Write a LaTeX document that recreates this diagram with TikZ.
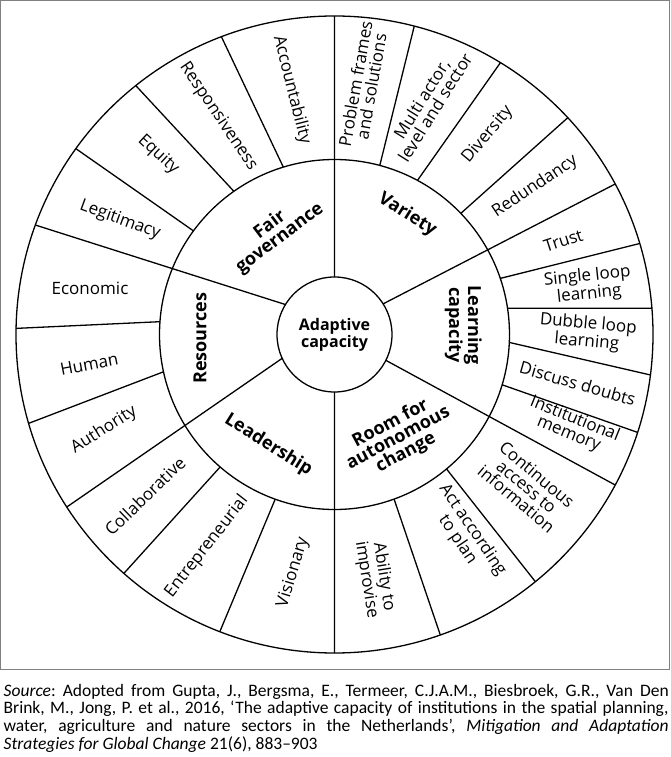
\documentclass[tikz,border=0pt]{standalone}
\usepackage{fontspec}
\setmainfont{Open Sans}
\newfontfamily\capfont{Carlito}
\tikzset{
  item/.style={font=\fontsize{17}{16}\selectfont, align=center, inner sep=0pt},
  group/.style={font=\fontsize{18}{16.5}\selectfont\bfseries, align=center, inner sep=0pt},
}
\begin{document}
\begin{tikzpicture}[x=1pt,y=1pt,line width=1.3pt]
   \useasboundingbox (-334.5,-422.5) rectangle (335.5,334.5);
   \draw[gray,line width=1pt] (-334,334) rectangle (335,-334.5);

   \draw (0,0) circle (318.5pt) (0,0) circle (175pt) (0,0) circle (57.5pt);

   % six main spokes
   \draw (0,57.5) -- (0,318.5) (0,-57.5) -- (0,-318.5)
   (32.2:57.5) -- (28.2:318.5) (-26.7:57.5) -- (-28.2:318.5)
   (204.5:57.5) -- (212.8:318.5) (148.6:57.5) -- (159.9:318.5);

   % outer ring
   \draw (75:175) -- (75.5:318.5) (61.7:175) -- (58.6:318.5)
   (43.8:175) -- (42.9:318.5) (18.7:175) -- (16.6:318.5)
   (173,26.2) -- (317.4,26.2) (-2.6:175) -- (-7.3:318.5)
   (-16.7:175) -- (-17.9:318.5) (-50.2:175) -- (-50.9:318.5)
   (-70.1:175) -- (-70.6:318.5) (250.2:175) -- (248.9:318.5)
   (229.2:175) -- (228.6:318.5) (192.3:175) -- (196.2:318.5)
   (175.8:175) -- (178.9:318.5) (143.7:175) -- (144.3:318.5)
   (125.1:175) -- (128.6:318.5) (107:175) -- (110.8:318.5);

   \node[group,font=\fontsize{16}{14.5}\selectfont\bfseries] (adapt) at (0,0) {Adaptive\\capacity};

   \node[group,rotate=37] (fair) at (-59.5,102.8) {Fair\\governance};
   \node[group,rotate=-32] (variety) at (72.8,119.5) {Variety};
   \node[group,rotate=-90] (learn) at (128.8,9.5) {Learning\\capacity};
   \node[group,rotate=28] (room) at (63.8,-103.8) {Room for\\autonomous\\change};
   \node[group,rotate=-32] (lead) at (-66.2,-110.5) {Leadership};
   \node[group,rotate=90] (resrc) at (-134.5,-3.8) {Resources};

   \node[item,rotate=-76] (account) at (-42.8,244.5) {Accountability};
   \node[item,rotate=-56] (respons) at (-116.2,217.8) {Responsiveness};
   \node[item,rotate=-43] (equity) at (-176.2,179.5) {Equity};
   \node[item,rotate=-20] (legit) at (-214.5,114.5) {Legitimacy};
   \node[item] (econ) at (-244.5,46.2) {Economic};
   \node[item,rotate=11] (human) at (-245.2,-29.8) {Human};
   \node[item,rotate=32] (auth) at (-230.5,-95.5) {Authority};
   \node[item,rotate=44] (collab) at (-189.5,-161.5) {Collaborative};
   \node[item,rotate=52] (entre) at (-127.8,-212.2) {Entrepreneurial};
   \node[item,rotate=73] (vision) at (-41.2,-237.8) {Visionary};
   \node[item,rotate=-81] (improv) at (40.5,-243.8) {Ability to\\improvise};
   \node[item,rotate=-56] (plan) at (130.5,-200.5) {Act according\\to plan};
   \node[item,rotate=-40] (access) at (192.2,-152.2) {Continuous\\access to\\information};
   \node[item,rotate=-22] (memory) at (237.2,-92.2) {Institutional\\memory};
   \node[item,rotate=-16] (doubts) at (243.2,-48.8) {Discuss doubts};
   \node[item,rotate=-5] (dubble) at (253,1.2) {Dubble loop\\learning};
   \node[item,rotate=6] (single) at (253.8,49) {Single loop\\learning};
   \node[item,rotate=18] (trust) at (228.8,93.8) {Trust};
   \node[item,rotate=34] (redund) at (200.5,147.8) {Redundancy};
   \node[item,rotate=50] (divers) at (153.2,199.5) {Diversity};
   \node[item,rotate=58] (multi) at (93.8,231.2) {Multi actor,\\level and sector};
   \node[item,rotate=80] (frames) at (28.8,249.5) {Problem frames\\and solutions};

   \node[anchor=base west,inner sep=0pt,text width=665pt,align=justify,
     font=\capfont\fontsize{17.5}{17.8}\selectfont\frenchspacing] (source) at (-331.5,-361.5)
   {\emph{Source}: Adopted from Gupta, J., Bergsma, E., Termeer, C.J.A.M., Biesbroek, G.R., Van Den\linebreak
   Brink, M., Jong, P. et al., 2016, ‘The adaptive capacity of institutions in the spatial planning,\linebreak
   water, agriculture and nature sectors in the Netherlands’, \emph{Mitigation and Adaptation}\linebreak
   \emph{Strategies for Global Change} 21(6), 883–903};
\end{tikzpicture}
\end{document}
